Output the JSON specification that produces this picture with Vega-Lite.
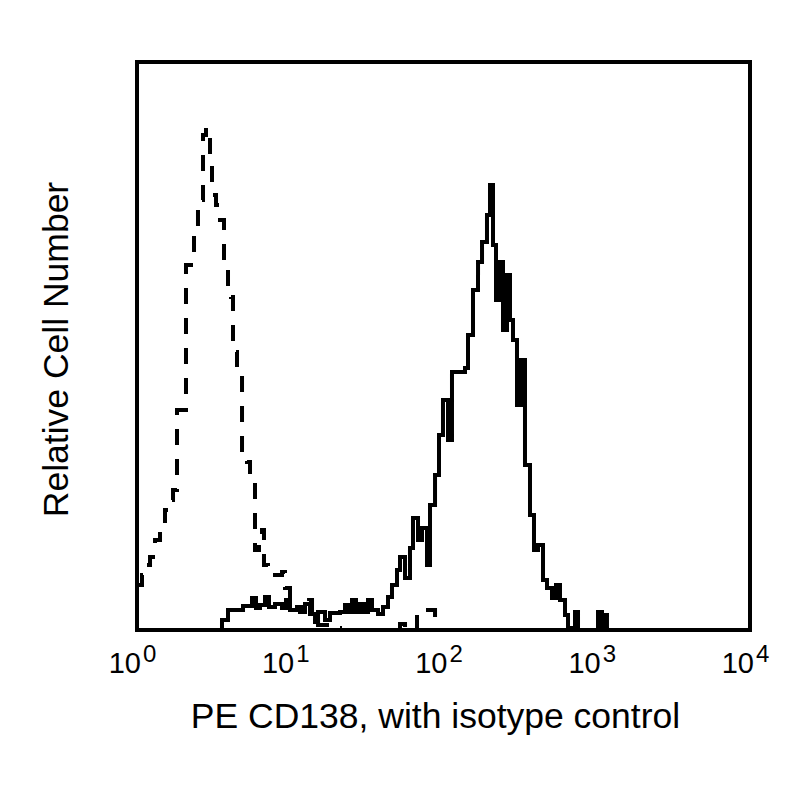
{
  "$schema": "https://vega.github.io/schema/vega-lite/v6.json",
  "width": 613,
  "height": 568,
  "autosize": {"type": "none"},
  "padding": {"left": 137, "top": 62, "right": 50, "bottom": 170},
  "background": "white",
  "config": {
    "font": "Liberation Sans",
    "view": {"stroke": "black", "strokeWidth": 4}
  },
  "datasets": {
    "hist": [
      {"sample": "isotype", "pe": 1.0, "count": 45},
      {"sample": "isotype", "pe": 1.078, "count": 55},
      {"sample": "isotype", "pe": 1.162, "count": 65},
      {"sample": "isotype", "pe": 1.216, "count": 73},
      {"sample": "isotype", "pe": 1.311, "count": 90},
      {"sample": "isotype", "pe": 1.413, "count": 105},
      {"sample": "isotype", "pe": 1.523, "count": 120},
      {"sample": "isotype", "pe": 1.618, "count": 130},
      {"sample": "isotype", "pe": 1.718, "count": 140},
      {"sample": "isotype", "pe": 1.824, "count": 220},
      {"sample": "isotype", "pe": 2.088, "count": 365},
      {"sample": "isotype", "pe": 2.355, "count": 398},
      {"sample": "isotype", "pe": 2.5, "count": 430},
      {"sample": "isotype", "pe": 2.696, "count": 495},
      {"sample": "isotype", "pe": 2.82, "count": 502},
      {"sample": "isotype", "pe": 2.995, "count": 470},
      {"sample": "isotype", "pe": 3.086, "count": 435},
      {"sample": "isotype", "pe": 3.278, "count": 425},
      {"sample": "isotype", "pe": 3.48, "count": 410},
      {"sample": "isotype", "pe": 3.696, "count": 372},
      {"sample": "isotype", "pe": 3.925, "count": 340},
      {"sample": "isotype", "pe": 4.106, "count": 333},
      {"sample": "isotype", "pe": 4.231, "count": 278},
      {"sample": "isotype", "pe": 4.493, "count": 265},
      {"sample": "isotype", "pe": 4.845, "count": 180},
      {"sample": "isotype", "pe": 5.222, "count": 168},
      {"sample": "isotype", "pe": 5.463, "count": 150},
      {"sample": "isotype", "pe": 5.888, "count": 80},
      {"sample": "isotype", "pe": 6.253, "count": 95},
      {"sample": "isotype", "pe": 6.541, "count": 100},
      {"sample": "isotype", "pe": 6.74, "count": 65},
      {"sample": "isotype", "pe": 7.157, "count": 60},
      {"sample": "isotype", "pe": 7.953, "count": 55},
      {"sample": "isotype", "pe": 8.836, "count": 58},
      {"sample": "isotype", "pe": 9.242, "count": 42},
      {"sample": "isotype", "pe": 9.963, "count": 32},
      {"sample": "isotype", "pe": 11.07, "count": 23},
      {"sample": "isotype", "pe": 11.93, "count": 18},
      {"sample": "isotype", "pe": 13.26, "count": 30},
      {"sample": "isotype", "pe": 13.87, "count": 15},
      {"sample": "isotype", "pe": 15.18, "count": 5},
      {"sample": "isotype", "pe": 18.17, "count": 2},
      {"sample": "isotype", "pe": 21.12, "count": 0},
      {"sample": "isotype", "pe": 52.03, "count": 6},
      {"sample": "isotype", "pe": 56.09, "count": 0},
      {"sample": "isotype", "pe": 67.16, "count": 20},
      {"sample": "isotype", "pe": 88.05, "count": 0},
      {"sample": "isotype", "pe": 10000, "count": 0},
      {"sample": "CD138", "pe": 1.0, "count": 0},
      {"sample": "CD138", "pe": 3.586, "count": 10},
      {"sample": "CD138", "pe": 3.925, "count": 20},
      {"sample": "CD138", "pe": 4.918, "count": 24},
      {"sample": "CD138", "pe": 5.628, "count": 32},
      {"sample": "CD138", "pe": 5.976, "count": 22},
      {"sample": "CD138", "pe": 6.347, "count": 25},
      {"sample": "CD138", "pe": 6.843, "count": 33},
      {"sample": "CD138", "pe": 7.265, "count": 23},
      {"sample": "CD138", "pe": 7.953, "count": 26},
      {"sample": "CD138", "pe": 8.836, "count": 22},
      {"sample": "CD138", "pe": 9.383, "count": 30},
      {"sample": "CD138", "pe": 9.963, "count": 20},
      {"sample": "CD138", "pe": 11.58, "count": 18},
      {"sample": "CD138", "pe": 12.48, "count": 26},
      {"sample": "CD138", "pe": 13.46, "count": 16},
      {"sample": "CD138", "pe": 14.51, "count": 8},
      {"sample": "CD138", "pe": 15.18, "count": 18},
      {"sample": "CD138", "pe": 16.86, "count": 10},
      {"sample": "CD138", "pe": 18.17, "count": 17},
      {"sample": "CD138", "pe": 21.12, "count": 18},
      {"sample": "CD138", "pe": 22.77, "count": 25},
      {"sample": "CD138", "pe": 23.82, "count": 18},
      {"sample": "CD138", "pe": 25.29, "count": 30},
      {"sample": "CD138", "pe": 26.85, "count": 18},
      {"sample": "CD138", "pe": 28.52, "count": 26},
      {"sample": "CD138", "pe": 30.28, "count": 18},
      {"sample": "CD138", "pe": 32.16, "count": 30},
      {"sample": "CD138", "pe": 34.15, "count": 20},
      {"sample": "CD138", "pe": 37.39, "count": 16},
      {"sample": "CD138", "pe": 40.3, "count": 23},
      {"sample": "CD138", "pe": 43.43, "count": 33},
      {"sample": "CD138", "pe": 46.12, "count": 45},
      {"sample": "CD138", "pe": 49.73, "count": 60},
      {"sample": "CD138", "pe": 52.03, "count": 73},
      {"sample": "CD138", "pe": 56.09, "count": 52},
      {"sample": "CD138", "pe": 60.44, "count": 82},
      {"sample": "CD138", "pe": 63.24, "count": 112},
      {"sample": "CD138", "pe": 68.18, "count": 90},
      {"sample": "CD138", "pe": 72.4, "count": 102},
      {"sample": "CD138", "pe": 78.05, "count": 65},
      {"sample": "CD138", "pe": 81.65, "count": 125},
      {"sample": "CD138", "pe": 88.05, "count": 155},
      {"sample": "CD138", "pe": 93.46, "count": 195},
      {"sample": "CD138", "pe": 99.24, "count": 230},
      {"sample": "CD138", "pe": 107.0, "count": 190},
      {"sample": "CD138", "pe": 113.6, "count": 258},
      {"sample": "CD138", "pe": 138.1, "count": 262},
      {"sample": "CD138", "pe": 144.5, "count": 295},
      {"sample": "CD138", "pe": 155.8, "count": 340},
      {"sample": "CD138", "pe": 168.0, "count": 368},
      {"sample": "CD138", "pe": 178.4, "count": 388},
      {"sample": "CD138", "pe": 192.2, "count": 415},
      {"sample": "CD138", "pe": 201.1, "count": 445},
      {"sample": "CD138", "pe": 210.4, "count": 385},
      {"sample": "CD138", "pe": 220.1, "count": 330},
      {"sample": "CD138", "pe": 233.7, "count": 368},
      {"sample": "CD138", "pe": 244.5, "count": 300},
      {"sample": "CD138", "pe": 259.7, "count": 355},
      {"sample": "CD138", "pe": 271.6, "count": 310},
      {"sample": "CD138", "pe": 284.1, "count": 290},
      {"sample": "CD138", "pe": 301.7, "count": 225},
      {"sample": "CD138", "pe": 320.4, "count": 270},
      {"sample": "CD138", "pe": 340.2, "count": 165},
      {"sample": "CD138", "pe": 366.8, "count": 115},
      {"sample": "CD138", "pe": 389.5, "count": 80},
      {"sample": "CD138", "pe": 413.7, "count": 85},
      {"sample": "CD138", "pe": 446.0, "count": 50},
      {"sample": "CD138", "pe": 473.6, "count": 42},
      {"sample": "CD138", "pe": 510.5, "count": 32},
      {"sample": "CD138", "pe": 542.1, "count": 45},
      {"sample": "CD138", "pe": 575.7, "count": 30},
      {"sample": "CD138", "pe": 620.7, "count": 15},
      {"sample": "CD138", "pe": 649.3, "count": 2},
      {"sample": "CD138", "pe": 721.3, "count": 18},
      {"sample": "CD138", "pe": 754.6, "count": 0},
      {"sample": "CD138", "pe": 1019, "count": 18},
      {"sample": "CD138", "pe": 1082, "count": 0},
      {"sample": "CD138", "pe": 1115, "count": 15},
      {"sample": "CD138", "pe": 1166, "count": 0},
      {"sample": "CD138", "pe": 10000, "count": 0}
    ],
    "ticks": [
      {"value": 1, "exponent": "0"},
      {"value": 10, "exponent": "1"},
      {"value": 100, "exponent": "2"},
      {"value": 1000, "exponent": "3"},
      {"value": 10000, "exponent": "4"}
    ]
  },
  "layer": [
    {
      "data": {"name": "hist"},
      "mark": {"type": "line", "interpolate": "step-after", "color": "black", "strokeWidth": 4, "clip": true},
      "encoding": {
        "x": {
          "field": "pe",
          "type": "quantitative",
          "scale": {"type": "log", "domain": [1, 10000], "nice": false},
          "axis": {
            "title": "PE CD138, with isotype control",
            "labels": false,
            "ticks": false,
            "domain": false,
            "grid": false,
            "titleFont": "Liberation Sans",
            "titleFontSize": 35.5,
            "titleFontWeight": "normal",
            "titleColor": "black",
            "titleBaseline": "alphabetic",
            "titleX": 298,
            "titleY": 97
          }
        },
        "y": {
          "field": "count",
          "type": "quantitative",
          "scale": {"domain": [0, 568], "nice": false},
          "axis": {
            "title": "Relative Cell Number",
            "labels": false,
            "ticks": false,
            "domain": false,
            "grid": false,
            "titleFont": "Liberation Sans",
            "titleFontSize": 35.5,
            "titleFontWeight": "normal",
            "titleColor": "black",
            "titleBaseline": "alphabetic",
            "titleX": -70,
            "titleY": 287
          }
        },
        "strokeDash": {
          "field": "sample",
          "type": "nominal",
          "scale": {"domain": ["isotype", "CD138"], "range": [[16, 14], [1, 0]]},
          "legend": null
        }
      }
    },
    {
      "data": {"name": "ticks"},
      "mark": {"type": "text", "text": "10", "align": "right", "baseline": "alphabetic", "dx": 4, "dy": 43, "fontSize": 29, "color": "black", "font": "Liberation Sans"},
      "encoding": {
        "x": {"field": "value", "type": "quantitative"},
        "y": {"datum": 0, "type": "quantitative"}
      }
    },
    {
      "data": {"name": "ticks"},
      "mark": {"type": "text", "align": "left", "baseline": "alphabetic", "dx": 6, "dy": 32, "fontSize": 24, "color": "black", "font": "Liberation Sans"},
      "encoding": {
        "x": {"field": "value", "type": "quantitative"},
        "y": {"datum": 0, "type": "quantitative"},
        "text": {"field": "exponent"}
      }
    }
  ]
}
